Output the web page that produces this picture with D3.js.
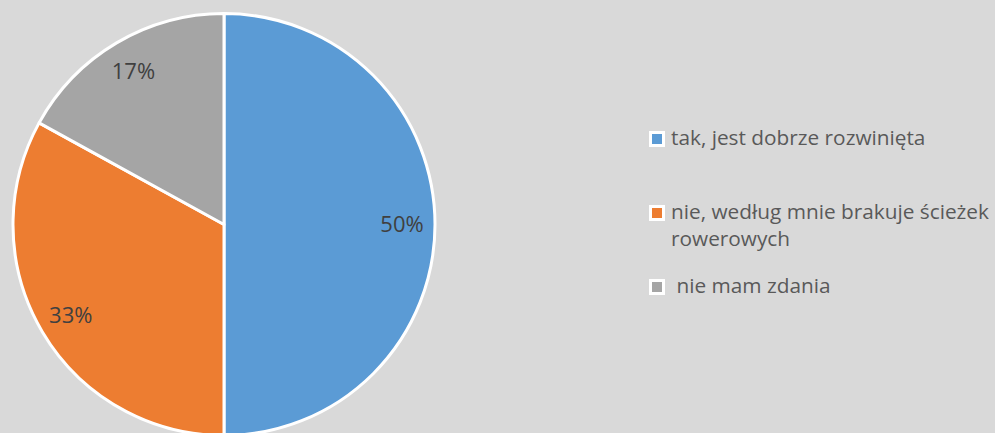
<!DOCTYPE html>
<html>
<head>
<meta charset="utf-8">
<script src="https://cdn.jsdelivr.net/npm/d3@7"></script>
<style>
  body { margin: 0; background: #d9d9d9; }
  svg { display: block; font-family: "Open Sans", Lato, sans-serif; }
</style>
</head>
<body>
<svg id="plot"></svg>
<script>
// Define data
const categories = ['tak, jest dobrze rozwinięta', 'nie, według mnie brakuje ścieżek rowerowych', 'nie mam zdania'];
const values = [50, 33, 17];
const legendLines = [['tak, jest dobrze rozwinięta'], ['nie, według mnie brakuje ścieżek', 'rowerowych'], [' nie mam zdania']];
const colors = ['#5b9bd5', '#ed7d31', '#a5a5a5'];

let width = 995;
let height = 433;
let cx = 224, cy = 224.5, radius = 211;

let svg = d3.select('#plot')
    .attr('width', width)
    .attr('height', height);

svg.append('rect')
    .attr('width', width)
    .attr('height', height)
    .attr('fill', '#d9d9d9');

let data = categories.map((c, i) => ({ name: c, value: values[i] }));

let colorScale = d3.scaleOrdinal()
    .domain(categories)
    .range(colors);

let pie = d3.pie().sort(null).value(d => d.value);
let arc = d3.arc().innerRadius(0).outerRadius(radius);
let labelArc = d3.arc().innerRadius(178).outerRadius(178);

let g = svg.append('g')
    .attr('transform', `translate(${cx}, ${cy})`);

let arcs = pie(data);

// Draw slices
g.selectAll('.slice')
    .data(arcs)
    .enter()
    .append('path')
    .attr('class', 'slice')
    .attr('d', arc)
    .style('fill', d => colorScale(d.data.name))
    .style('stroke', '#fff')
    .style('stroke-width', 3)
    .style('stroke-linejoin', 'round');

// Percentage labels
g.selectAll('.label')
    .data(arcs)
    .enter()
    .append('text')
    .attr('class', 'label')
    .attr('transform', d => `translate(${labelArc.centroid(d)})`)
    .attr('text-anchor', 'middle')
    .attr('dy', '.36em')
    .style('font-size', '22px')
    .style('fill', '#404040')
    .text(d => d.data.value + '%');

// Add legend
let legendY = [139, 213, 287];
let legend = svg.selectAll('.legend')
    .data(categories)
    .enter()
    .append('g')
    .attr('class', 'legend')
    .attr('transform', (d, i) => `translate(657, ${legendY[i]})`);

legend.append('rect')
    .attr('x', -6.5)
    .attr('y', -6.5)
    .attr('width', 13)
    .attr('height', 13)
    .style('fill', d => colorScale(d))
    .style('stroke', '#fff')
    .style('stroke-width', 3);

legend.append('text')
    .attr('x', 14)
    .attr('y', 6)
    .style('font-size', '20.8px')
    .style('fill', '#595959')
    .style('white-space', 'pre')
    .selectAll('tspan')
    .data((d, i) => legendLines[i])
    .enter()
    .append('tspan')
    .attr('x', 14)
    .attr('dy', (d, j) => j === 0 ? 0 : 27)
    .text(d => d);
</script>
</body>
</html>
